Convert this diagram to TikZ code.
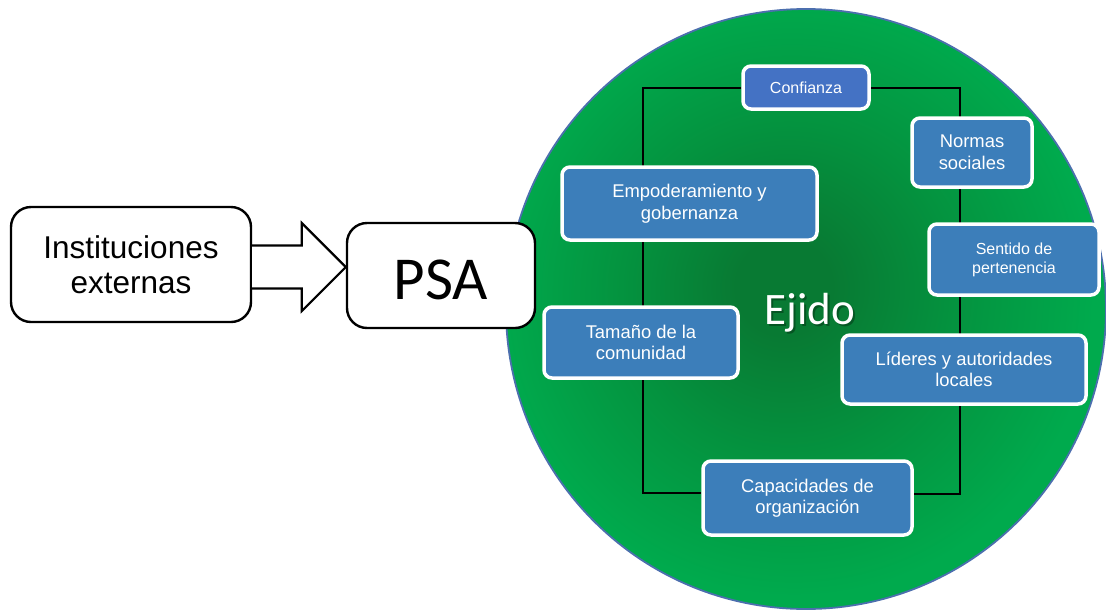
\documentclass[tikz,border=0pt]{standalone}
\usepackage{fontspec}
\setmainfont{Liberation Sans}
\newfontfamily\calibri{Carlito}
\usetikzlibrary{calc,backgrounds}

\definecolor{boxblue}{HTML}{3C7EBA}
\definecolor{confblue}{HTML}{4472C4}
\definecolor{greenlight}{HTML}{00AA4D}
\definecolor{greenmid}{HTML}{04933F}
\definecolor{greendark}{HTML}{087A33}
\definecolor{rimblue}{HTML}{4C6FAE}

% dark green core fading to the bright rim of the ejido disc
\pgfdeclareradialshading{ejidoshade}{\pgfpoint{-2bp}{2bp}}{%
  color(0bp)=(greendark); color(4bp)=(greendark);
  color(14bp)=(greenmid); color(25bp)=(greenlight); color(50bp)=(greenlight)}

\pgfdeclarelayer{disc}
\pgfdeclarelayer{wires}
\pgfsetlayers{disc,wires,main}

\tikzset{
  factor/.style={draw=white, line width=3.5pt, fill=boxblue, rounded corners=8pt,
    text=white, align=center, inner sep=0pt,
    font=\fontsize{18.4}{21.5}\selectfont},
  smallfactor/.style={factor, font=\fontsize{16}{19}\selectfont},
  plainbox/.style={draw=black, line width=2.4pt, fill=white, rounded corners=20pt,
    align=center, inner sep=0pt},
  link/.style={black, line width=2pt},
  blockarrow/.style={draw=black, fill=white, line width=2.2pt, line join=miter},
}

\begin{document}
\begin{tikzpicture}[x=1pt,y=-1pt]
\useasboundingbox (0,0) rectangle (1106,611);

% community disc
\begin{pgfonlayer}{disc}
  \node[circle, minimum size=600pt, inner sep=0pt, shading=ejidoshade,
        draw=rimblue, line width=1.8pt] (ejido) at (806,309) {};
\end{pgfonlayer}

\node[font=\calibri\fontsize{45}{54}\selectfont, text=black, opacity=0.3, anchor=base]
  (ejidoshadow) at (812,326) {Ejido};
\node[font=\calibri\fontsize{45}{54}\selectfont, text=white, anchor=base]
  (ejidolabel) at (810,324) {Ejido};

% factors inside the ejido
\node[smallfactor, fill=confblue, minimum width=126pt, minimum height=43pt]
  (conf) at (806,87.5) {Confianza};
\node[factor, minimum width=120pt, minimum height=69pt]
  (nor) at (972,152.5) {Normas\\sociales};
\node[factor, minimum width=255pt, minimum height=73pt]
  (emp) at (689.5,203.5) {Empoderamiento y\\gobernanza};
\node[smallfactor, minimum width=170pt, minimum height=71pt]
  (sen) at (1014,259.5) {Sentido de\\pertenencia};
\node[factor, minimum width=194pt, minimum height=71pt]
  (tam) at (641,342.5) {Tamaño de la\\comunidad};
\node[factor, minimum width=244pt, minimum height=69pt]
  (lid) at (964,369.5) {Líderes y autoridades\\locales};
\node[factor, minimum width=209pt, minimum height=74pt]
  (cap) at (807.5,498) {Capacidades de\\organización};

% loop linking the factors
\coordinate (bl) at (643,493);
\coordinate (br) at (960,494);
\begin{pgfonlayer}{wires}
  \draw[link] (conf.west) -| (bl) -- (bl -| cap.west);
  \draw[link] (conf.east) -| (br) -- (br -| cap.east);
\end{pgfonlayer}

% external institutions feeding the PSA programme
\node[plainbox, minimum width=240pt, minimum height=115pt,
      font=\fontsize{31.5}{35}\selectfont]
  (inst) at (131,264.5) {Instituciones\\externas};
\node[plainbox, minimum width=188pt, minimum height=105pt,
      text height=47pt, text depth=0pt,
      font=\calibri\fontsize{61}{70}\selectfont]
  (psa) at (441,275.5) {PSA};

\coordinate (ay) at (0,267);
\coordinate (tail) at (inst.east |- ay);
\coordinate (tip) at (psa.west |- ay);
\draw[blockarrow]
  ($(tail)+(0,-21.5)$) -- ($(tip)+(-44,-21.5)$) -- ($(tip)+(-44,-44)$) -- (tip)
  -- ($(tip)+(-44,44)$) -- ($(tip)+(-44,21.5)$) -- ($(tail)+(0,21.5)$);
\end{tikzpicture}
\end{document}
